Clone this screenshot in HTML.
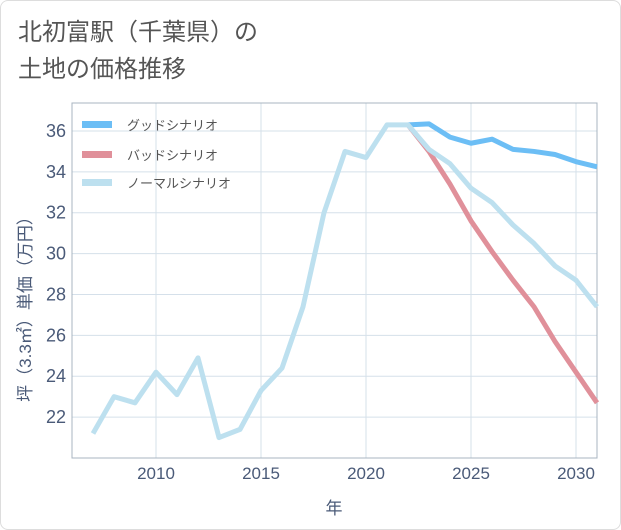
<!DOCTYPE html>
<html><head><meta charset="utf-8"><style>
body{margin:0;background:#fff;font-family:"Liberation Sans","Noto Sans CJK JP",sans-serif;}
#card{position:absolute;left:0;top:0;width:619px;height:528px;border:1px solid #ddd;border-radius:8px;background:#fff;}
#title{position:absolute;left:17px;top:13px;font-size:24px;line-height:37px;color:#555;font-family:"Liberation Sans","Noto Sans CJK JP",sans-serif;}
</style></head><body>
<div id="card">
<div id="title">北初富駅（千葉県）の<br>土地の価格推移</div>
</div>
<svg id="chart" width="621" height="530" style="position:absolute;left:0;top:0"></svg>
<script>
const years=[2007,2008,2009,2010,2011,2012,2013,2014,2015,2016,2017,2018,2019,2020,2021,2022,2023,2024,2025,2026,2027,2028,2029,2030,2031];
const normal=[21.2,23.0,22.7,24.2,23.1,24.9,21.0,21.4,23.3,24.4,27.4,32.0,35.0,34.7,36.3,36.3,35.1,34.4,33.2,32.5,31.4,30.5,29.4,28.7,27.4];
const goodYears=[2022,2023,2024,2025,2026,2027,2028,2029,2030,2031];
const good=[36.3,36.35,35.7,35.4,35.6,35.1,35.0,34.85,34.5,34.25];
const bad=[36.3,35.0,33.4,31.6,30.1,28.7,27.4,25.7,24.2,22.7];
const xTicks=[2010,2015,2020,2025,2030];
const yTicks=[22,24,26,28,30,32,34,36];
const L=72,R=597,T=103,B=458,x0=2006,x1=2031,y0=20,y1=37.37;
const X=v=>L+(v-x0)/(x1-x0)*(R-L);
const Y=v=>B-(v-y0)/(y1-y0)*(B-T);
const svg=document.getElementById('chart');const NS='http://www.w3.org/2000/svg';
function mk(t,a,p){const e=document.createElementNS(NS,t);for(const k in a)e.setAttribute(k,a[k]);(p||svg).appendChild(e);return e;}
xTicks.forEach(v=>{const l=mk('line',{x1:X(v),x2:X(v),y1:T,y2:B,stroke:'#d5e0ea'});


const t=mk('text',{x:X(v),y:479,'text-anchor':'middle','font-size':17,fill:'#4a5a78'});t.textContent=v;

});
yTicks.forEach(v=>{const l=mk('line',{x1:L,x2:R,y1:Y(v),y2:Y(v),stroke:'#d5e0ea'});


const t=mk('text',{x:66,y:Y(v)+6,'text-anchor':'end','font-size':18,fill:'#4a5a78'});t.textContent=v;

});
const fr=mk('rect',{x:L,y:T,width:R-L,height:B-T,fill:'none',stroke:'#a8b4c0'});


function line(xs,ys,c,n){const p=mk('polyline',{points:xs.map((v,i)=>X(v)+','+Y(ys[i])).join(' '),fill:'none',stroke:c,'stroke-width':5,'stroke-linejoin':'round'});

}
line(goodYears,good,'#6cbef5','good-scenario-line');
line(goodYears,bad,'#e0909a','bad-scenario-line');
line(years,normal,'#bde0ef','normal-scenario-line');
[['グッドシナリオ','#6cbef5',125],['バッドシナリオ','#e0909a',155],['ノーマルシナリオ','#bde0ef',183]].forEach(([s,c,y])=>{
const r=mk('rect',{x:82,y:y-4,width:30,height:7,fill:c});


const t=mk('text',{x:127,y:y+5,'font-size':13,fill:'#555'});t.textContent=s;

});
const xt=mk('text',{x:334,y:514,'text-anchor':'middle','font-size':17,fill:'#4a5a78'});xt.textContent='年';


const yt=mk('text',{x:0,y:0,'text-anchor':'middle','font-size':17,fill:'#4a5a78',transform:'translate(31,305) rotate(-90)'});yt.textContent='坪（3.3㎡）単価（万円）';


</script>
</body></html>
